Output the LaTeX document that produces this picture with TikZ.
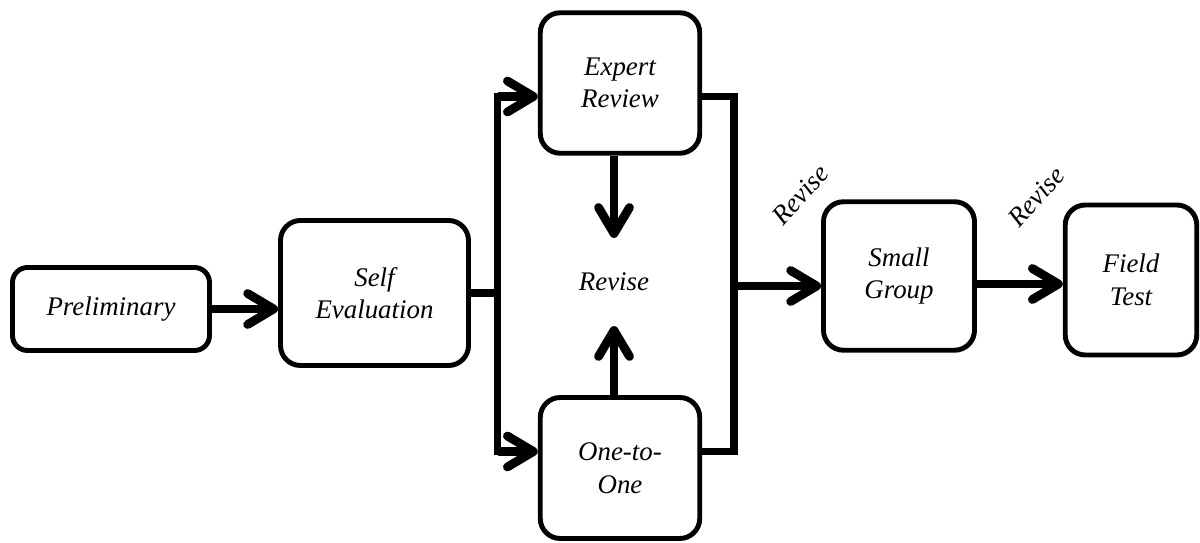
\documentclass[tikz,border=0pt]{standalone}
\usepackage{fontspec}
\setmainfont{Liberation Serif}
\usetikzlibrary{arrows.meta}
\tikzset{
  block/.style = {rectangle, draw, line width=2.8pt, rounded corners=0.4cm, align=center, inner sep=0pt, font=\itshape\fontsize{15.3}{18.5}\selectfont},
  note/.style = {font=\itshape\fontsize{15.3}{18}\selectfont},
  link/.style = {draw, line width=4.5pt},
  arrow/.style = {draw, line width=5pt, -{Straight Barb[length=5.2mm, width=6.2mm, round]}},
}

\begin{document}
\begin{tikzpicture}

  \useasboundingbox (0,0) rectangle (24,10.86);

  \node (1) [block, minimum width=3.94cm, minimum height=1.66cm, rounded corners=0.3cm] at (2.22,4.68) {Preliminary};
  \node (2) [block, minimum width=3.76cm, minimum height=2.9cm] at (7.49,5.0) {Self\\ Evaluation};
  \node (3) [block, minimum width=3.19cm, minimum height=2.81cm] at (12.4,9.2) {Expert\\ Review};
  \node (4) [block, minimum width=3.19cm, minimum height=2.82cm] at (12.4,1.5) {One-to-\\ One};
  \node (5) [note, minimum height=1.75cm] at (12.28,5.22) {Revise};
  \node (6) [block, minimum width=3.02cm, minimum height=2.97cm] at (17.98,5.34) {Small\\ Group};
  \node (7) [block, minimum width=2.63cm, minimum height=3.0cm] at (22.62,5.26) {Field\\ Test};

  \node (r1) [note, rotate=48] at (16.0,6.96) {Revise};
  \node (r2) [note, rotate=48] at (20.72,6.92) {Revise};

  % split and join
  \coordinate (b0) at (9.95,5.0);
  \coordinate (b1) at (9.95,8.93);
  \coordinate (b2) at (9.95,1.83);
  \coordinate (c1) at (14.68,8.93);
  \coordinate (c2) at (14.68,1.83);
  \coordinate (c3) at (14.68,5.14);

  \draw [arrow] (1.east |- 1) -- (2.west |- 1);
  \draw [link] (2) -- (b0);
  \draw [link, line cap=rect] (b1) -- (b2);
  \draw [arrow] (b1) -- (3.west |- b1);
  \draw [arrow] (b2) -- (4.west |- b2);
  \draw [link] (3.east |- c1) -- (c1) -- (c2) -- (4.east |- c2);
  \draw [arrow] (5.north |- 3.south) -- (5.north);
  \draw [arrow] (5.south |- 4.north) -- (5.south);
  \draw [arrow] (c3) -- (6.west |- c3);
  \draw [arrow] (6.east |- 0,5.18) -- (7.west |- 0,5.18);

\end{tikzpicture}
\end{document}
